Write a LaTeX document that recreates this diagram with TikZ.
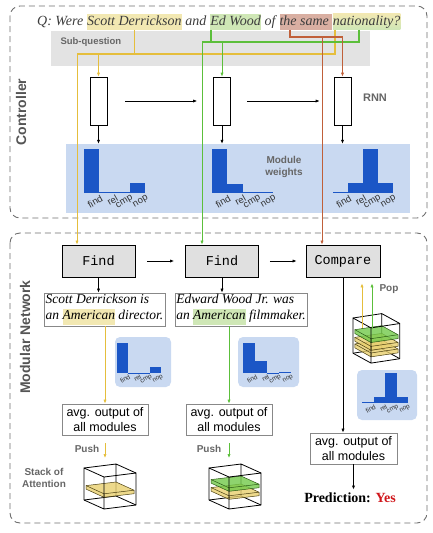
\documentclass[tikz,border=0pt]{standalone}
\usepackage{fontspec}
\setmainfont{Liberation Serif}
\setsansfont{Liberation Sans}
\setmonofont{Liberation Mono}
\usetikzlibrary{positioning,arrows.meta}

\definecolor{framegray}{HTML}{6E6E6E}
\definecolor{sidegray}{HTML}{555555}
\definecolor{taggray}{HTML}{666666}
\definecolor{qtext}{HTML}{3C3C3C}
\definecolor{labgray}{HTML}{333333}
\definecolor{boxgray}{HTML}{888888}
\definecolor{subqgray}{HTML}{E3E3E3}
\definecolor{bandblue}{HTML}{C9D9F1}
\definecolor{barblue}{HTML}{1B56C6}
\definecolor{findfill}{HTML}{E0E0E0}
\definecolor{hlyellow}{HTML}{F2E8B2}
\definecolor{hlgreen}{HTML}{CFE7B6}
\definecolor{hlred}{HTML}{D9AFA2}
\definecolor{lineyellow}{HTML}{E5BE3C}
\definecolor{linegreen}{HTML}{5CBF3B}
\definecolor{linered}{HTML}{C0603A}
\definecolor{slabyellow}{HTML}{E8CF6E}
\definecolor{slabyedge}{HTML}{4A3E10}
\definecolor{slabgreen}{HTML}{72C94A}
\definecolor{slabgedge}{HTML}{2A5A14}
\definecolor{predred}{HTML}{D0161B}

\tikzset{
  ctlframe/.style={draw=framegray, dash pattern=on 6pt off 4pt, line width=0.9pt, rounded corners=10pt},
  sidelabel/.style={rotate=90, font=\fontsize{14}{16}\sffamily\bfseries, text=sidegray},
  qword/.style={font=\fontsize{14}{16}\selectfont\itshape, text=qtext, inner xsep=0pt, inner ysep=1pt,
    text height=10.5pt, text depth=3.5pt, anchor=base west},
  cell/.style={draw, line width=0.7pt, minimum width=17pt, minimum height=48pt, inner sep=0pt},
  modbox/.style={draw, fill=findfill, line width=0.8pt, minimum width=73pt, minimum height=32pt,
    font=\fontsize{13.5}{15}\ttfamily},
  factbox/.style={draw=boxgray, line width=0.6pt, align=left, inner xsep=1.5pt, inner ysep=1.5pt,
    font=\fontsize{13.5}{16}\selectfont\itshape},
  avgbox/.style={draw=boxgray, line width=0.8pt, align=center, minimum width=86pt, minimum height=31pt,
    inner sep=1pt, font=\fontsize{12.5}{15}\sffamily},
  tag/.style={font=\fontsize{10}{12}\sffamily\bfseries, text=taggray, align=center},
  panel/.style={fill=bandblue, rounded corners=5pt, minimum width=56pt, minimum height=50pt, inner sep=0pt},
  wlabel/.style={rotate=30, anchor=north east, inner sep=0pt, text=labgray},
  arr/.style={-{Latex[length=4pt,width=3.2pt]}, line width=0.7pt},
  ylw/.style={draw=lineyellow, line width=1.1pt},
  grn/.style={draw=linegreen, line width=1.1pt},
  rdl/.style={draw=linered, line width=1.1pt},
  cubeline/.style={draw=black, line width=0.8pt, line join=round},
  pred/.style={font=\fontsize{14}{16}\selectfont\bfseries},
}

% bar chart of module weights: find, rel, cmp, nop
\newcommand{\modweights}[4]{%
  \foreach \h [count=\i from 0] in {#1,#2,#3,#4}
    \fill[barblue] (\i,0) rectangle ++(1,\h);
  \foreach \lab [count=\i from 0] in {find,rel,cmp,nop}
    \node[wlabel] (w\lab) at (\i+1.05,-0.1) {\lab};
}
% stack of attention
\newcommand{\attback}{%
  \draw[cubeline] (0,0) -- (32,-4) -- (52,5) (32,-4) -- (32,28) (0,32) -- (32,28) -- (52,37);}
\newcommand{\attfront}{%
  \draw[cubeline] (0,0) -- (20,9) -- (52,5) -- (52,37) -- (20,41) -- (0,32) -- cycle (20,9) -- (20,41);}
\newcommand{\attslab}[3]{%
  \begin{scope}[shift={(0,#1)}]
    \filldraw[fill=#2, draw=#3, line width=.5pt, fill opacity=.8]
      (2,0.6) -- (32,-3) -- (50,5.2) -- (50,8.7) -- (20,12.3) -- (2,4.1) -- cycle;
    \draw[#3, line width=.5pt] (2,0.6) -- (20,8.8) -- (50,5.2) (20,8.8) -- (20,12.3);
  \end{scope}}
\newcommand{\hlword}[2]{{\fboxsep=0pt\colorbox{#1}{\strut #2}}}

\begin{document}
\begin{tikzpicture}[x=1pt,y=-1pt]
  \useasboundingbox (0,0) rectangle (433,533);

  % frames
  \draw[ctlframe] (10,6) rectangle (427,218);
  \draw[ctlframe] (10,233) rectangle (427,523);
  \node[sidelabel] (ctl) at (21,112) {Controller};
  \node[sidelabel] (mnet) at (25,337) {Modular Network};

  % backgrounds
  \node[fill=subqgray, minimum width=319pt, minimum height=35pt, inner sep=0pt] (subq) at (210.5,48.5) {};
  \node[tag, font=\fontsize{9.5}{11}\sffamily\bfseries, anchor=west] (subqlab) at (57,42) {Sub-question};
  \node[fill=bandblue, minimum width=344pt, minimum height=69pt, inner sep=0pt] (weights) at (238,178.5) {};
  \node[tag] (wlab) at (284,167) {Module\\weights};

  % question
  \node[qword] (q0) at (37,25) {Q: Were};
  \node[qword, fill=hlyellow] (qscott) at ([xshift=3.5pt]q0.base east) {Scott Derrickson};
  \node[qword] (q1) at ([xshift=3.5pt]qscott.base east) {and};
  \node[qword, fill=hlgreen] (qed) at ([xshift=3.5pt]q1.base east) {Ed Wood};
  \node[qword] (q2) at ([xshift=3.5pt]qed.base east) {of};
  \node[qword, fill=hlred] (qsame) at ([xshift=3.5pt]q2.base east) {the same\kern3.5pt};
  \node[qword, top color=hlyellow, bottom color=hlgreen] (qnat) at (qsame.base east) {nationality?};

  % RNN controller
  \node[cell] (cell1) at (98.5,101) {};
  \node[cell] (cell2) at (222,101) {};
  \node[cell] (cell3) at (342.5,101) {};
  \node[tag, font=\fontsize{11}{13}\sffamily\bfseries] (rnn) at (375,98) {RNN};
  \draw[arr, shorten <=18pt, shorten >=16pt] (cell1) -- (cell2);
  \draw[arr, shorten <=16.5pt, shorten >=14pt] (cell2) -- (cell3);
  \foreach \c in {cell1,cell2,cell3}
    \draw[arr] (\c.south) -- (\c.south |- weights.north);

  % module weights
  \begin{scope}[shift={(84,193)}, x=15.3pt, y=14.67pt, font=\fontsize{9.5}{9.5}\sffamily]
    \modweights{3}{.04}{.04}{.7}
  \end{scope}
  \begin{scope}[shift={(212,193)}, x=15.25pt, y=14.67pt, font=\fontsize{9.5}{9.5}\sffamily]
    \modweights{3}{.62}{.04}{.08}
  \end{scope}
  \begin{scope}[shift={(333,193)}, x=15pt, y=14.67pt, font=\fontsize{9.5}{9.5}\sffamily]
    \modweights{.08}{.68}{3}{.68}
  \end{scope}

  % modular network
  \node[modbox] (find1) at (98.5,261) {Find};
  \node[modbox] (find2) at (222,261) {Find};
  \node[modbox, minimum width=74pt] (compare) at (343,261) {Compare};
  \draw[arr, shorten <=12pt, shorten >=11pt] (find1) -- (find2);
  \draw[arr, shorten <=11pt, shorten >=9pt] (find2) -- (compare);

  \node[factbox] (fact1) at (104.5,309.5) {Scott Derrickson is\\an \hlword{hlyellow}{American} director.};
  \node[factbox] (fact2) at (241,309.5) {Edward Wood Jr. was\\an \hlword{hlgreen}{American} filmmaker.};
  \draw[arr] (find1.south) -- (find1.south |- fact1.north);
  \draw[arr] (find2.south) -- (find2.south |- fact2.north);

  \node[panel] (panel1) at (143,362) {};
  \node[panel, minimum width=61pt] (panel2) at (268.5,362) {};
  \node[panel, minimum width=60pt] (panel3) at (387,395) {};
  \begin{scope}[shift={(117,373)}, x=11pt, y=10pt, font=\fontsize{6.5}{6.5}\sffamily]
    \modweights{3}{.04}{.04}{.6}
  \end{scope}
  \begin{scope}[shift={(243,373)}, x=12pt, y=10pt, font=\fontsize{6.5}{6.5}\sffamily]
    \modweights{3}{1.25}{.04}{.08}
  \end{scope}
  \begin{scope}[shift={(362,403)}, x=11.5pt, y=10pt, font=\fontsize{6.5}{6.5}\sffamily]
    \modweights{.06}{.6}{3}{.6}
  \end{scope}

  \node[avgbox] (avg1) at (105,419.5) {avg. output of\\all modules};
  \node[avgbox] (avg2) at (229,419.5) {avg. output of\\all modules};
  \node[avgbox, minimum width=87pt] (avg3) at (353.5,448.5) {avg. output of\\all modules};
  \node[pred] (pred) at (350,498) {Prediction: \textcolor{predred}{Yes}};
  \draw[arr] (compare.south) -- (compare.south |- avg3.north);
  \draw[arr] (avg3.south) -- (avg3.south |- pred.north);

  % stacks of attention
  \begin{scope}[shift={(84,468)}]
    \attback
    \attslab{17}{slabyellow}{slabyedge}
    \attfront
  \end{scope}
  \begin{scope}[shift={(209,468)}]
    \attback
    \attslab{19}{slabyellow}{slabyedge}
    \attslab{11}{slabgreen}{slabgedge}
    \attfront
  \end{scope}
  \begin{scope}[shift={(353,318)}, xscale=.9, yscale=1.1]
    \attback
    \attslab{23}{slabyellow}{slabyedge}
    \attslab{17}{slabyellow}{slabyedge}
    \attslab{10}{slabgreen}{slabgedge}
    \attfront
  \end{scope}
  \node[tag] (stacklab) at (44,478) {Stack of\\Attention};

  % sub-question routing
  \coordinate (ybus) at (77,54);
  \coordinate (gbus) at (202,42);
  \coordinate (rbus) at (290,37);
  \coordinate (rdrop) at (322,37);
  \draw[ylw] (qnat.south -| 335,0) |- (ybus);
  \draw[ylw] (qscott.south) -- (qscott.south |- ybus);
  \draw[ylw, arr] (ybus) -- (ybus |- find1.north);
  \draw[ylw, arr] (cell1.north |- ybus) -- (cell1.north);
  \draw[grn] (qnat.south -| 359,0) |- (gbus);
  \draw[grn] (qed.south -| 211,0) -- (gbus -| 211,0);
  \draw[grn, arr] (gbus) -- (gbus |- find2.north);
  \draw[grn, arr] (cell2.north |- gbus) -- (cell2.north);
  \draw[rdl] (qsame.south -| rbus) -- (rbus) -- (cell3.north |- rbus);
  \draw[rdl, arr] (cell3.north |- rbus) -- (cell3.north);
  \draw[rdl, arr] (rdrop) -- (rdrop |- compare.north);

  % push and pop
  \coordinate (stack1top) at (105,458);
  \coordinate (stack2top) at (229,458);
  \draw[ylw, arr, shorten <=8pt] (avg1.south) -- (stack1top);
  \draw[grn, arr, shorten <=8pt] (avg2.south) -- (stack2top);
  \draw[ylw, arr] (fact1.south -| avg1.north) -- (avg1.north);
  \draw[grn, arr] (fact2.south -| avg2.north) -- (avg2.north);
  \node[tag] (push1) at (87,449) {Push};
  \node[tag] (push2) at (209,449) {Push};
  \coordinate (popy) at (362,328);
  \coordinate (popg) at (372,328);
  \draw[ylw, arr, shorten >=6pt] (popy) -- (popy |- compare.south);
  \draw[grn, arr, shorten >=6pt] (popg) -- (popg |- compare.south);
  \node[tag] (pop) at (389,289) {Pop};
\end{tikzpicture}
\end{document}
